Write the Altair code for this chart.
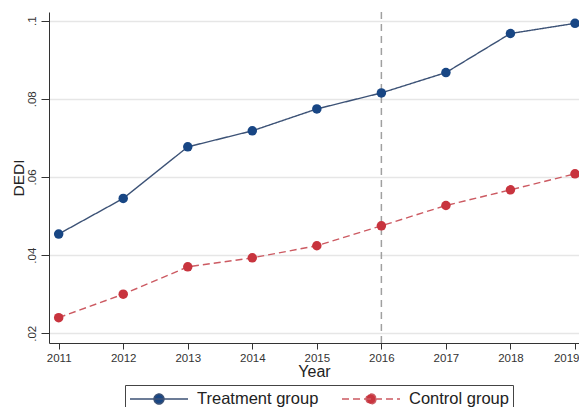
import altair as alt
import pandas as pd

years = [2011, 2012, 2013, 2014, 2015, 2016, 2017, 2018, 2019]
treatment = [0.0454, 0.0545, 0.0677, 0.0718, 0.0774, 0.0815, 0.0867, 0.0967, 0.0993]
control = [0.0240, 0.0300, 0.0370, 0.0393, 0.0424, 0.0475, 0.0527, 0.0567, 0.0608]
groups = ["Treatment group", "Control group"]
event_year = [2016]
y_ticks = [0.02, 0.04, 0.06, 0.08, 0.10]

df = pd.DataFrame({
    "Year": years + years,
    "DEDI": treatment + control,
    "group": [groups[0]] * len(years) + [groups[1]] * len(years),
})
vline = pd.DataFrame({"Year": event_year})

FONT = "Liberation Sans"

xscale = alt.Scale(domain=[2010.85, 2019.062], nice=False, zero=False)
yscale = alt.Scale(domain=[0.01752, 0.1022], nice=False, zero=False)

last_year = years[-1]
x = alt.X("Year:Q", scale=xscale,
          axis=alt.Axis(values=years, format="d", title="Year", grid=False,
                        tickSize=6, labelPadding=3, titlePadding=0,
                        labelAlign=alt.ExprRef(expr=f"datum.value == {last_year} ? 'right' : 'center'"),
                        labelOffset=alt.ExprRef(expr=f"datum.value == {last_year} ? 4 : 0"),
                        labelFontSize=11.5, titleFontSize=16, titleFontWeight="normal",
                        labelColor="#333", titleColor="#222", domainColor="#333",
                        tickColor="#333", labelFont=FONT, titleFont=FONT))
y = alt.Y("DEDI:Q", scale=yscale,
          axis=alt.Axis(values=y_ticks, labelExpr="replace(format(datum.value, '.2~f'), '0.', '.')",
                        labelAngle=270, labelAlign="center", labelBaseline="bottom",
                        tickSize=8, labelPadding=4, title="DEDI", titlePadding=0,
                        grid=True, gridColor="#e6e6e6", gridWidth=1.5,
                        labelFontSize=11.5, titleFontSize=15.5, titleFontWeight="normal",
                        labelColor="#333", titleColor="#222", domainColor="#333",
                        tickColor="#333", labelFont=FONT, titleFont=FONT))

sym = "M-1,0H1M0.17,0A0.17,0.17,0,1,1,-0.17,0A0.17,0.17,0,1,1,0.17,0Z"

legend = alt.Legend(title=None, orient="none", legendX=76, legendY=373,
                    direction="horizontal", symbolType=sym, symbolSize=3364,
                    symbolStrokeWidth=1.5, labelFontSize=16.5, labelFont=FONT,
                    labelColor="#222", labelOffset=8, columnPadding=22,
                    clipHeight=20, strokeColor="#444", padding=4)

stroke = alt.Stroke("group:N", scale=alt.Scale(domain=groups, range=["#3c5276", "#cc5a62"]), legend=legend)
dash = alt.StrokeDash("group:N", scale=alt.Scale(domain=groups, range=[[1, 0], [7, 4]]), legend=legend)
fill = alt.Fill("group:N", scale=alt.Scale(domain=groups, range=["#184684", "#c8343e"]), legend=legend)

rule = alt.Chart(vline).mark_rule(color="#a0a0a0", strokeDash=[7, 5], strokeWidth=1.5).encode(
    x=alt.X("Year:Q", scale=xscale))

lines = alt.Chart(df).mark_line(strokeWidth=1.4).encode(x=x, y=y, stroke=stroke, strokeDash=dash)
points = alt.Chart(df).mark_point(filled=True, size=90, opacity=1).encode(
    x=alt.X("Year:Q", scale=xscale), y=alt.Y("DEDI:Q", scale=yscale), fill=fill)

chart = alt.layer(rule, lines, points).properties(
    width=530, height=331,
    autosize=alt.AutoSizeParams(type="none"),
    padding={"left": 41, "top": 4, "right": 0, "bottom": 64},
    background="white",
).configure_view(stroke=None)

chart.save("out.html", embed_options={"renderer": "svg", "actions": False})
